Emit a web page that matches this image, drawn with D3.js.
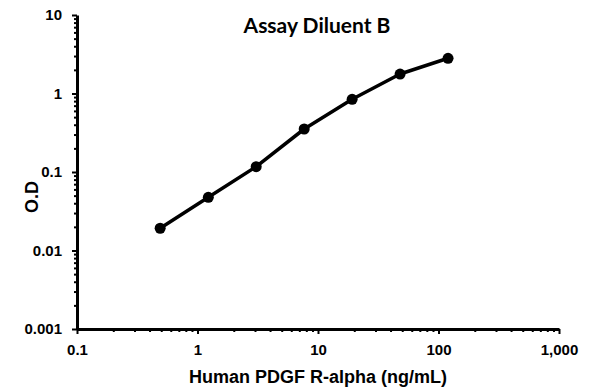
<!DOCTYPE html>
<html>
<head>
<meta charset="utf-8">
<script src="https://cdn.jsdelivr.net/npm/d3@7"></script>
<style>
  body { margin: 0; background: #fff; }
  text { font-family: "Liberation Sans", Arial, sans-serif; font-weight: bold; fill: #000; }
</style>
</head>
<body>
<svg id="chart" width="595" height="392"></svg>
<script>
// data
const concentration = [0.49, 1.23, 3.07, 7.68, 19.2, 48, 120];
const od = [0.0192, 0.0476, 0.117, 0.353, 0.843, 1.77, 2.81];
const xTicks = [0.1, 1, 10, 100, 1000];
const xTickLabels = ["0.1", "1", "10", "100", "1,000"];
const yTicks = [0.001, 0.01, 0.1, 1, 10];
const yTickLabels = ["0.001", "0.01", "0.1", "1", "10"];

//Plot area
const plotLeft = 77, plotRight = 559, plotTop = 15, plotBottom = 329;

const svg = d3.select("#chart");

const x = d3.scaleLog().domain([0.1, 1000]).range([plotLeft, plotRight]);
const y = d3.scaleLog().domain([0.001, 10]).range([plotBottom, plotTop]);

//minor tick values for each decade
function minors(domain) {
  var out = [];
  for (var d = domain[0]; d < domain[1]; d *= 10) {
    for (var k = 2; k <= 9; k++) out.push(d * k);
  }
  return out;
}

// minor ticks --------
svg.append("g")
  .attr("transform", `translate(0,${plotBottom})`)
  .call(d3.axisBottom(x).tickValues(minors(x.domain())).tickFormat("").tickSize(3).tickSizeOuter(0))
  .call(g => g.select(".domain").remove())
  .call(g => g.selectAll("line").attr("stroke-width", 2));

svg.append("g")
  .attr("transform", `translate(${plotLeft},0)`)
  .call(d3.axisLeft(y).tickValues(minors(y.domain())).tickFormat("").tickSize(3).tickSizeOuter(0))
  .call(g => g.select(".domain").remove())
  .call(g => g.selectAll("line").attr("stroke-width", 2));

// major axes --------
const xAxis = svg.append("g")
  .attr("transform", `translate(0,${plotBottom})`)
  .call(d3.axisBottom(x).tickValues(xTicks).tickFormat((d, i) => xTickLabels[i]).tickSize(5).tickSizeOuter(0).tickPadding(10));

const yAxis = svg.append("g")
  .attr("transform", `translate(${plotLeft},0)`)
  .call(d3.axisLeft(y).tickValues(yTicks).tickFormat((d, i) => yTickLabels[i]).tickSize(5).tickSizeOuter(0).tickPadding(10));

[xAxis, yAxis].forEach(g => {
  g.select(".domain").attr("stroke", "#000").attr("stroke-width", 3);
  g.selectAll(".tick line").attr("stroke", "#000").attr("stroke-width", 2);
  g.selectAll(".tick text")
    .style("font-family", '"Liberation Sans", Arial, sans-serif')
    .style("font-weight", "bold")
    .style("font-size", "15px")
    .attr("fill", "#000");
});

// curve --------
const pts = concentration.map((c, i) => [c, od[i]]);
const line = d3.line().x(d => x(d[0])).y(d => y(d[1]));

svg.append("path")
  .datum(pts)
  .attr("d", line)
  .attr("fill", "none")
  .attr("stroke", "#000")
  .attr("stroke-width", 3.5)
  .attr("stroke-linejoin", "round");

svg.append("g")
  .selectAll("circle")
  .data(pts)
  .join("circle")
  .attr("cx", d => x(d[0]))
  .attr("cy", d => y(d[1]))
  .attr("r", 5.5)
  .attr("fill", "#000");

// titles --------
svg.append("text")
  .attr("x", 317)
  .attr("y", 33)
  .attr("text-anchor", "middle")
  .style("font-family", "Lato, sans-serif")
  .style("font-size", "21px")
  .text("Assay Diluent B");

svg.append("text")
  .attr("x", 318)
  .attr("y", 383)
  .attr("text-anchor", "middle")
  .style("font-size", "18px")
  .text("Human PDGF R-alpha (ng/mL)");

svg.append("text")
  .attr("transform", "translate(38,197) rotate(-90)")
  .attr("text-anchor", "middle")
  .style("font-size", "18px")
  .text("O.D");
</script>
</body>
</html>
